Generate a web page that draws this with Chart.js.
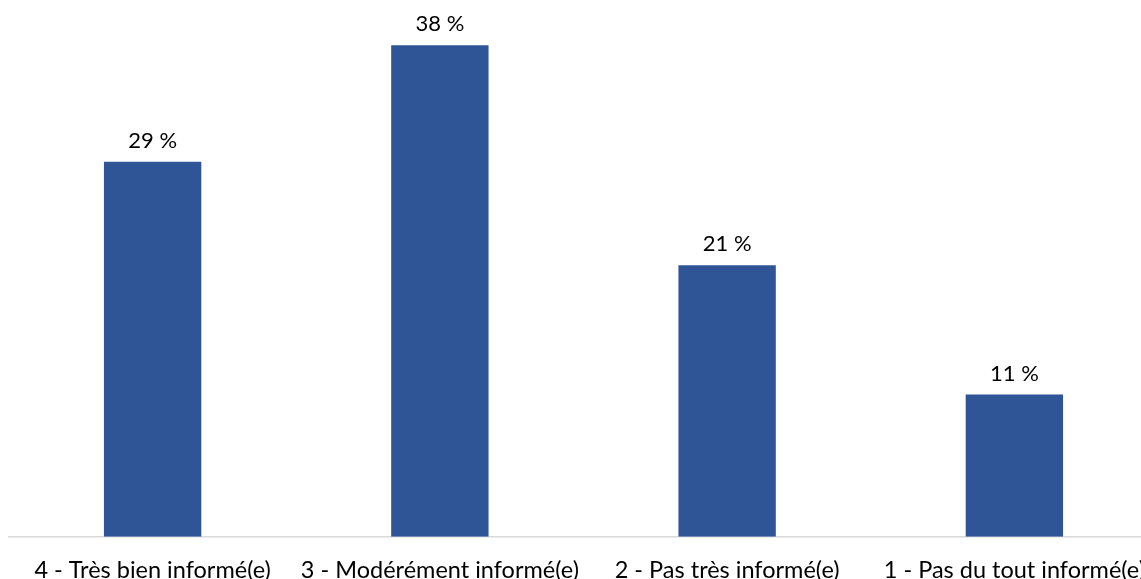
<!DOCTYPE html>
<html>
<head>
<meta charset="utf-8">
<script src="https://cdn.jsdelivr.net/npm/chart.js@4/dist/chart.umd.min.js"></script>
<style>
  html, body { margin: 0; padding: 0; background: #fff; overflow: hidden; }
  #wrap { width: 1165px; height: 605px; position: relative; }
</style>
</head>
<body>
<div id="wrap"><canvas id="barChart"></canvas></div>
<script>
const categories = ['4 - Très bien informé(e)', '3 - Modérément informé(e)', '2 - Pas très informé(e)', '1 - Pas du tout informé(e)'];
const values = [29, 38, 21, 11];
const barColor = '#2F5597';
const fontFamily = 'Lato, "Liberation Sans", sans-serif';

// draws "29 %" above each bar
const valueLabels = {
  id: 'valueLabels',
  afterDatasetsDraw(chart) {
    const ctx = chart.ctx;
    const meta = chart.getDatasetMeta(0);
    ctx.save();
    ctx.font = '22px ' + fontFamily;
    ctx.fillStyle = '#000';
    ctx.textAlign = 'center';
    ctx.textBaseline = 'bottom';
    meta.data.forEach((bar, i) => {
      ctx.fillText(values[i] + ' %', bar.x, bar.y - 10);
    });
    ctx.restore();
  }
};

const ctx = document.getElementById('barChart').getContext('2d');
new Chart(ctx, {
  type: 'bar',
  data: {
    labels: categories,
    datasets: [{
      data: values,
      backgroundColor: barColor,
      categoryPercentage: 1,
      barPercentage: 0.339,
    }],
  },
  options: {
    responsive: true,
    maintainAspectRatio: false,
    animation: false,
    layout: { padding: { left: 9, right: 0, top: 0, bottom: 0 } },
    plugins: { legend: { display: false }, tooltip: { enabled: false } },
    scales: {
      x: {
        grid: { display: false, drawTicks: false },
        border: { display: true, color: '#D9D9D9', width: 1.5 },
        ticks: {
          color: '#000',
          font: { family: fontFamily, size: 23.5 },
          padding: 20,
          maxRotation: 0,
          autoSkip: false,
        },
      },
      y: {
        display: false,
        min: 0,
        max: 41.5,
      },
    },
  },
  plugins: [valueLabels],
});
</script>
</body>
</html>
